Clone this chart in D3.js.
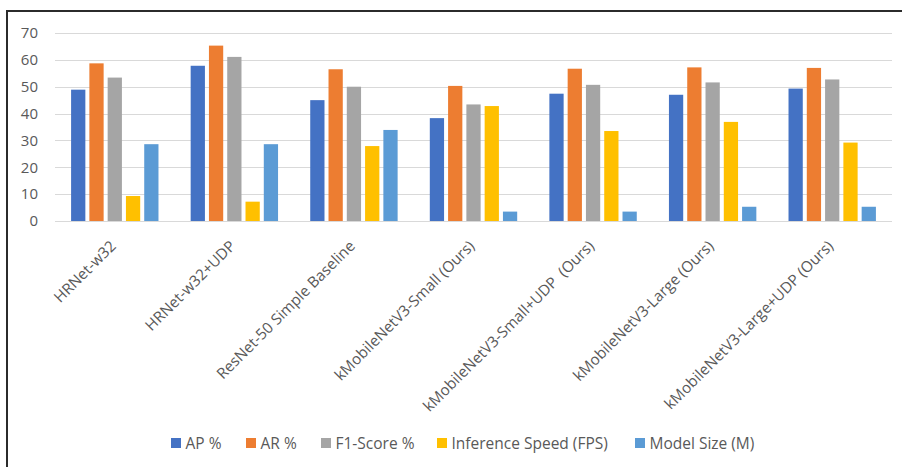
<!DOCTYPE html>
<html>
<head>
<meta charset="utf-8">
<script src="https://cdn.jsdelivr.net/npm/d3@7"></script>
<style>
  html, body { margin: 0; padding: 0; background: #fff; }
  svg { display: block; }
  text { font-family: "Open Sans", "Noto Sans", sans-serif; fill: #595959; }
</style>
</head>
<body>
<svg id="chart" width="902" height="467"></svg>
<script>
// Model names along the x axis
const models = [
  "HRNet-w32",
  "HRNet-w32+UDP",
  "ResNet-50 Simple Baseline",
  "kMobileNetV3-Small (Ours)",
  "kMobileNetV3-Small+UDP  (Ours)",
  "kMobileNetV3-Large (Ours)",
  "kMobileNetV3-Large+UDP (Ours)"
];

// Series names and colours
const seriesNames = ["AP %", "AR %", "F1-Score %", "Inference Speed (FPS)", "Model Size (M)"];
const seriesColors = ["#4472C4", "#ED7D31", "#A5A5A5", "#FFC000", "#5B9BD5"];

// One array per series, in model order
const apValues   = [48.9, 57.8, 45.0, 38.3, 47.4, 47.0, 49.3];
const arValues   = [58.7, 65.3, 56.5, 50.3, 56.7, 57.2, 57.0];
const f1Values   = [53.4, 61.1, 50.0, 43.4, 50.7, 51.6, 52.7];
const fpsValues  = [9.3, 7.2, 27.9, 42.8, 33.5, 36.9, 29.2];
const sizeValues = [28.6, 28.6, 33.9, 3.5, 3.5, 5.3, 5.3];

const yTicks = [0, 10, 20, 30, 40, 50, 60, 70];

const seriesValues = [apValues, arValues, f1Values, fpsValues, sizeValues];

const FONT = "'Open Sans', 'Noto Sans', sans-serif";
const svg = d3.select("#chart");

// Outer frame (open on the right and bottom edges)
svg.append("rect")
  .attr("x", 7).attr("y", 11)
  .attr("width", 1000).attr("height", 1000)
  .attr("fill", "none")
  .attr("stroke", "#2b2b2b")
  .attr("stroke-width", 2);

const plot = { left: 55, right: 892, top: 33, bottom: 221 };

const x0 = d3.scaleBand()
  .domain(models)
  .range([plot.left, plot.right])
  .paddingInner(0).paddingOuter(0);

const x1 = d3.scaleBand()
  .domain(seriesNames)
  .range([0, x0.bandwidth()])
  .paddingInner(0.22)
  .paddingOuter(0.88);

const y = d3.scaleLinear()
  .domain([0, 70])
  .range([plot.bottom, plot.top]);

// Horizontal gridlines
svg.append("g")
  .selectAll("line")
  .data(yTicks)
  .join("line")
  .attr("x1", plot.left).attr("x2", plot.right)
  .attr("y1", d => Math.round(y(d)) + 0.5)
  .attr("y2", d => Math.round(y(d)) + 0.5)
  .attr("stroke", "#d9d9d9")
  .attr("stroke-width", 1.2);

// Y axis labels
const yAxis = d3.axisLeft(y).tickValues(yTicks).tickSize(0).tickPadding(0);
const gy = svg.append("g")
  .attr("transform", `translate(38,0)`)
  .call(yAxis);
gy.select(".domain").remove();
gy.selectAll("text")
  .attr("font-size", 15)
  .attr("font-family", FONT)
  .attr("fill", "#595959");

// Bars
const rows = models.map((m, i) => ({
  model: m,
  values: seriesNames.map((s, j) => ({ series: s, value: seriesValues[j][i], color: seriesColors[j] }))
}));

svg.append("g")
  .selectAll("g")
  .data(rows)
  .join("g")
  .attr("transform", d => `translate(${x0(d.model)},0)`)
  .selectAll("rect")
  .data(d => d.values)
  .join("rect")
  .attr("x", d => x1(d.series))
  .attr("width", x1.bandwidth())
  .attr("y", d => y(d.value))
  .attr("height", d => y(0) - y(d.value))
  .attr("fill", d => d.color);

// Rotated category labels
const xAxis = d3.axisBottom(x0).tickSize(0).tickPadding(0);
const gx = svg.append("g")
  .attr("transform", `translate(0,${plot.bottom})`)
  .call(xAxis);
gx.select(".domain").remove();
gx.selectAll("text")
  .attr("font-size", 15.2)
  .attr("font-family", FONT)
  .attr("fill", "#595959")
  .attr("text-anchor", "end")
  .attr("dy", null)
  .attr("y", 0)
  .attr("transform", "translate(2,26) rotate(-45)")
  .style("white-space", "pre");

// Legend
const legendX = [171, 246, 321, 437, 635];
const legend = svg.append("g");
seriesNames.forEach((s, i) => {
  const g = legend.append("g").attr("transform", `translate(${legendX[i]},443)`);
  g.append("rect")
    .attr("x", 0).attr("y", -5)
    .attr("width", 10).attr("height", 10)
    .attr("fill", seriesColors[i]);
  g.append("text")
    .attr("x", 14.5).attr("y", 0)
    .attr("dy", "0.36em")
    .attr("font-size", 15.5)
    .attr("font-family", FONT)
    .attr("fill", "#595959")
    .text(s);
});
</script>
</body>
</html>
